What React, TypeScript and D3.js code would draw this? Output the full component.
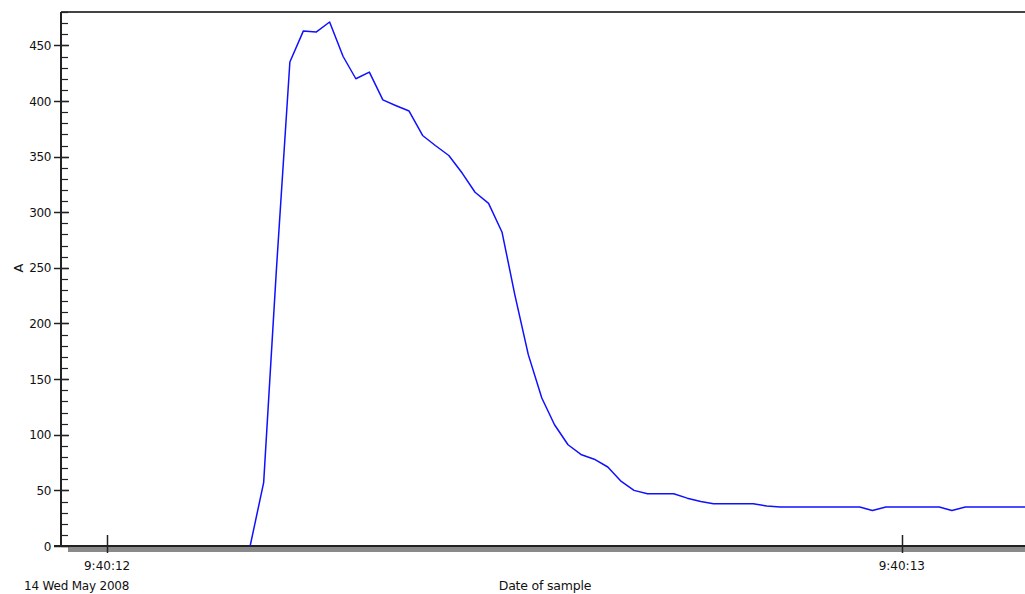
import React, { useEffect, useRef } from 'react';
import * as d3 from 'd3';

// sample times, ms after 9:40:12 on 14 May 2008
const sampleMs = [
  180, 197, 213, 230, 247, 263, 280, 297, 313, 330,
  347, 363, 380, 397, 413, 430, 447, 463, 480, 497,
  513, 530, 547, 563, 580, 597, 613, 630, 647, 663,
  680, 697, 713, 730, 747, 763, 780, 797, 813, 830,
  847, 863, 880, 897, 913, 930, 947, 963, 980, 997,
  1013, 1030, 1047, 1063, 1080, 1097, 1113, 1130, 1147, 1163,
];

// current in A
const amps = [
  0, 57, 248, 435, 463, 462, 471, 440, 420, 426,
  401, 396, 391, 369, 360, 351, 335, 318, 308, 282,
  226, 172, 133, 109, 91, 82, 78, 71, 58, 50,
  47, 47, 47, 43, 40, 38, 38, 38, 38, 36,
  35, 35, 35, 35, 35, 35, 35, 32, 35, 35,
  35, 35, 35, 32, 35, 35, 35, 35, 35, 35,
];

const yMajorTicks = [0, 50, 100, 150, 200, 250, 300, 350, 400, 450];
const yMinorTicks = d3.range(0, 481, 10);
const dateLabel = '14 Wed May 2008';
const xTitle = 'Date of sample';
const yTitle = 'A';

const FONT = '"DejaVu Sans", Verdana, sans-serif';

const App: React.FC = () => {
  const svgRef = useRef<SVGSVGElement>(null);

  useEffect(() => {
    if (!svgRef.current) return;
    const svg = d3.select(svgRef.current);
    svg.selectAll('*').remove();

    const left = 61, right = 1025, top = 12, bottom = 546;
    const start = new Date(2008, 4, 14, 9, 40, 12);
    const at = (ms: number) => new Date(start.getTime() + ms);

    const x = d3.scaleTime()
      .domain([at(-57.5), at(1155)])
      .range([left, right]);
    const y = d3.scaleLinear()
      .domain([0, 480])
      .range([bottom, top]);

    svg.append('defs').append('clipPath')
      .attr('id', 'plot')
      .append('rect')
      .attr('x', left)
      .attr('y', top - 2)
      .attr('width', right - left)
      .attr('height', bottom - top + 2);

    // gray band under x axis
    svg.append('rect')
      .attr('x', 68)
      .attr('y', bottom + 1)
      .attr('width', right - 68)
      .attr('height', 5)
      .attr('fill', '#8a8a8a');

    // frame lines
    svg.append('line')
      .attr('x1', left).attr('x2', right)
      .attr('y1', top).attr('y2', top)
      .attr('stroke', '#444').attr('stroke-width', 2);

    svg.append('line')
      .attr('x1', left).attr('x2', left)
      .attr('y1', top).attr('y2', bottom)
      .attr('stroke', '#222').attr('stroke-width', 2);

    svg.append('line')
      .attr('x1', left - 7).attr('x2', right)
      .attr('y1', bottom).attr('y2', bottom)
      .attr('stroke', '#222').attr('stroke-width', 2);

    // y ticks
    svg.append('g').selectAll('line')
      .data(yMinorTicks)
      .enter()
      .append('line')
      .attr('x1', left).attr('x2', left + 7)
      .attr('y1', d => Math.round(y(d)) + 0.5)
      .attr('y2', d => Math.round(y(d)) + 0.5)
      .attr('stroke', '#222').attr('stroke-width', 1.2);

    svg.append('g').selectAll('line')
      .data(yMajorTicks)
      .enter()
      .append('line')
      .attr('x1', left - 7).attr('x2', left + 8)
      .attr('y1', d => Math.round(y(d)) + 0.5)
      .attr('y2', d => Math.round(y(d)) + 0.5)
      .attr('stroke', '#222').attr('stroke-width', 1.5);

    svg.append('g').selectAll('text')
      .data(yMajorTicks)
      .enter()
      .append('text')
      .attr('x', 51)
      .attr('y', d => y(d) + 4.5)
      .attr('text-anchor', 'end')
      .attr('font-family', FONT)
      .attr('font-size', '12px')
      .attr('letter-spacing', '-0.4px')
      .attr('fill', '#111')
      .text(d => d);

    // x ticks
    const xTicks = x.ticks(d3.timeSecond.every(1) as any);
    const fmt = d3.timeFormat('%-H:%M:%S');

    svg.append('g').selectAll('line')
      .data(xTicks)
      .enter()
      .append('line')
      .attr('x1', d => Math.round(x(d)) + 0.5)
      .attr('x2', d => Math.round(x(d)) + 0.5)
      .attr('y1', bottom - 11)
      .attr('y2', bottom + 7)
      .attr('stroke', '#222').attr('stroke-width', 1.5);

    svg.append('g').selectAll('text')
      .data(xTicks)
      .enter()
      .append('text')
      .attr('x', d => x(d))
      .attr('y', 570)
      .attr('text-anchor', 'middle')
      .attr('font-family', FONT)
      .attr('font-size', '12px')
      .attr('fill', '#111')
      .text(d => fmt(d));

    svg.append('text')
      .attr('x', 24)
      .attr('y', 590)
      .attr('font-family', FONT)
      .attr('font-size', '12px')
      .attr('letter-spacing', '-0.2px')
      .attr('fill', '#111')
      .text(dateLabel);

    svg.append('text')
      .attr('x', 545)
      .attr('y', 590)
      .attr('text-anchor', 'middle')
      .attr('font-family', FONT)
      .attr('font-size', '12.5px')
      .attr('letter-spacing', '-0.2px')
      .attr('fill', '#111')
      .text(xTitle);

    svg.append('text')
      .attr('transform', 'translate(23,268) rotate(-90)')
      .attr('text-anchor', 'middle')
      .attr('font-family', FONT)
      .attr('font-size', '13px')
      .attr('fill', '#111')
      .text(yTitle);

    // current trace
    const pts = sampleMs.map((ms, i) => [ms, amps[i]] as [number, number]);
    const line = d3.line<[number, number]>()
      .x(d => x(at(d[0])))
      .y(d => y(d[1]));

    svg.append('path')
      .datum(pts)
      .attr('clip-path', 'url(#plot)')
      .attr('d', line)
      .attr('fill', 'none')
      .attr('stroke', '#1010ff')
      .attr('stroke-width', 1.5)
      .attr('stroke-linejoin', 'round');
  }, []);

  return (
    <svg
      ref={svgRef}
      width={1025}
      height={594}
      style={{ position: 'absolute', left: 0, top: 0, display: 'block', background: '#fff' }}
    />
  );
};

export default App;
